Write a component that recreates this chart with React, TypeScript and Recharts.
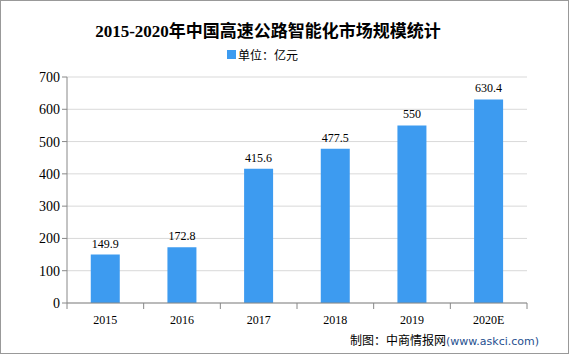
import React from 'react';
import { BarChart, Bar, XAxis, YAxis, CartesianGrid, LabelList } from 'recharts';

const years = ['2015', '2016', '2017', '2018', '2019', '2020E'];
const marketSize = [149.9, 172.8, 415.6, 477.5, 550, 630.4];
const yTicks = [0, 100, 200, 300, 400, 500, 600, 700];

const data = years.map((year, i) => ({ year, value: marketSize[i] }));

const serif = '"Liberation Serif", "DejaVu Serif", "Noto Sans CJK SC", serif';
const cjk = '"Noto Sans CJK SC", "DejaVu Sans", sans-serif';

// x ticks sit on category boundaries, label stays in the middle
const XTick = (props: any) => {
  const { x, y, payload, index } = props;
  const half = payload && payload.offset ? payload.offset : 38.3;
  return (
    <g>
      <line x1={x - half} y1={y - 8} x2={x - half} y2={y - 2} stroke="#888" />
      {index === years.length - 1 && (
        <line x1={x + half} y1={y - 8} x2={x + half} y2={y - 2} stroke="#888" />
      )}
      <text x={x} y={y + 13} textAnchor="middle" fontSize={12} fontFamily={serif} fill="#000">
        {payload.value}
      </text>
    </g>
  );
};

const App: React.FC = () => {
  return (
    <div style={{ position: 'absolute', left: 0, top: 0, width: 569, height: 354, background: '#fff' }}>
      <style>{'body{margin:0}'}</style>
      <div style={{ position: 'absolute', inset: 0, border: '1px solid #999', boxSizing: 'border-box' }} />
      <div
        style={{
          position: 'absolute', top: 21, left: 0, width: 536, textAlign: 'center',
          fontFamily: serif, fontWeight: 'bold', fontSize: 17, color: '#000', lineHeight: '22px',
        }}
      >
        2015-2020年中国高速公路智能化市场规模统计
      </div>
      <div style={{ position: 'absolute', top: 46, left: 227, display: 'flex', alignItems: 'center', fontFamily: cjk, fontSize: 12, color: '#000' }}>
        <span style={{ display: 'inline-block', width: 9, height: 9, background: '#3d9bf0', marginRight: 2 }} />
        单位：亿元
      </div>
      <BarChart
        width={569}
        height={354}
        data={data}
        margin={{ top: 77, right: 42, bottom: 21, left: 0 }}
        barCategoryGap="31%"
      >
        <CartesianGrid horizontal vertical={false} stroke="#d9d9d9" />
        <XAxis
          dataKey="year"
          height={30}
          axisLine={{ stroke: '#888' }}
          tickLine={false}
          tick={<XTick />}
          interval={0}
        />
        <YAxis
          width={67}
          domain={[0, 700]}
          ticks={yTicks}
          interval={0}
          axisLine={{ stroke: '#888' }}
          tickLine={{ stroke: '#888' }}
          tickSize={5}
          tick={{ fontSize: 14, fontFamily: serif, fill: '#000' }}
        />
        <Bar dataKey="value" fill="#3d9bf0" isAnimationActive={false}>
          <LabelList dataKey="value" position="top" offset={7} fontSize={12} fontFamily={serif} fill="#000" />
        </Bar>
      </BarChart>
      <div style={{ position: 'absolute', top: 331, left: 350, fontFamily: cjk, fontSize: 12, color: '#000', whiteSpace: 'nowrap' }}>
        制图：中商情报网<span style={{ color: '#1f4f8f', fontFamily: '"DejaVu Sans", sans-serif', fontSize: 11 }}>(www.askci.com)</span>
      </div>
    </div>
  );
};

export default App;
